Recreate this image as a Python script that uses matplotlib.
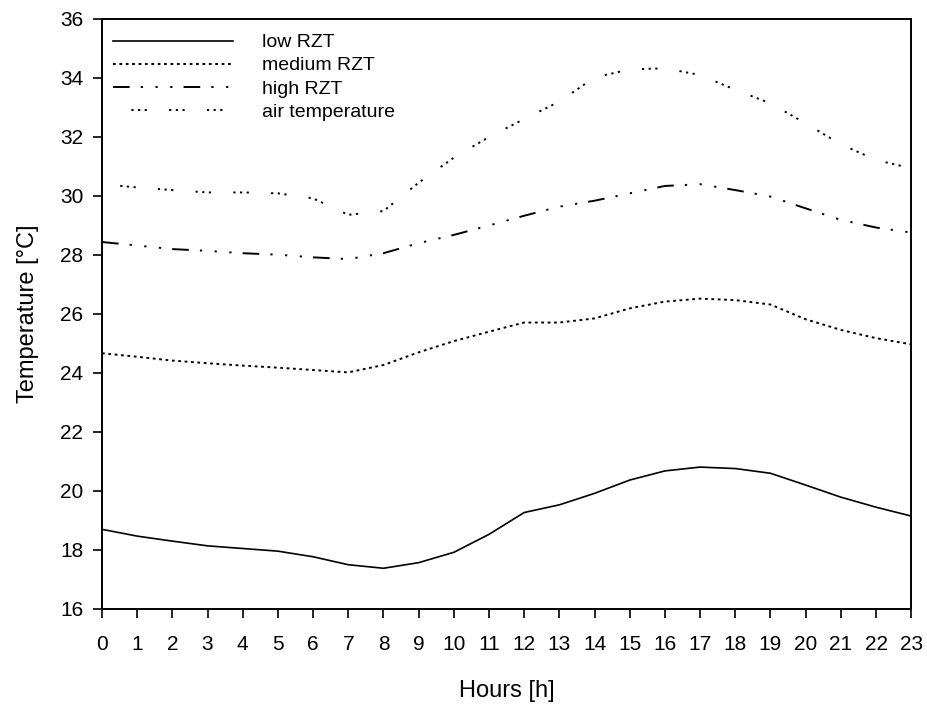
import matplotlib
matplotlib.use('Agg')
import matplotlib.pyplot as plt
import numpy as np

plt.rcParams['font.family'] = ['Liberation Sans', 'DejaVu Sans']
plt.rcParams['lines.scale_dashes'] = False

# Stunden
hours = np.arange(24)

# Temperaturen
low_rzt = [18.70, 18.47, 18.30, 18.14, 18.05, 17.96, 17.77, 17.50, 17.38, 17.57, 17.92, 18.53,
           19.27, 19.53, 19.92, 20.37, 20.68, 20.81, 20.76, 20.60, 20.20, 19.79, 19.45, 19.15]
medium_rzt = [24.67, 24.55, 24.42, 24.33, 24.25, 24.18, 24.10, 24.02, 24.27, 24.70, 25.08, 25.40,
              25.71, 25.71, 25.85, 26.19, 26.42, 26.52, 26.47, 26.32, 25.82, 25.46, 25.18, 24.97]
high_rzt = [28.44, 28.32, 28.20, 28.14, 28.06, 28.01, 27.92, 27.86, 28.06, 28.40, 28.68, 29.00,
            29.33, 29.64, 29.84, 30.09, 30.34, 30.40, 30.20, 29.98, 29.58, 29.19, 28.93, 28.76]
air_temp = [30.40, 30.29, 30.20, 30.12, 30.12, 30.09, 29.92, 29.36, 29.49, 30.45, 31.30, 32.00,
            32.61, 33.20, 34.02, 34.29, 34.33, 34.10, 33.60, 33.14, 32.46, 31.75, 31.22, 30.94]

series = [
    ('low RZT', low_rzt, '-', 1.2),
    ('medium RZT', medium_rzt, (0, (2.0, 2.6)), 1.4),
    ('high RZT', high_rzt, (0, (12, 8, 1.6, 9, 1.6, 9, 1.6, 8)), 1.4),
    ('air temperature', air_temp, (14, (1.6, 3.2, 1.6, 3.2, 1.6, 16)), 1.4),
]

fig = plt.figure(figsize=(9.27, 7.11), dpi=100)
ax = fig.add_axes([0.110, 0.1435, 0.873, 0.8298])

for name, vals, ls, lw in series:
    ax.plot(hours, vals, color='k', linestyle=ls, linewidth=lw,
            dash_capstyle='butt', label=name)

ax.set_xlim(0, 23)
ax.set_ylim(16, 36)
ax.set_xticks(hours)
ax.set_yticks(np.arange(16, 37, 2))
ax.tick_params(direction='out', length=6.5, width=1.2, labelsize=15, pad=7)
ax.tick_params(axis='x', pad=12)
for sp in ax.spines.values():
    sp.set_linewidth(1.4)

ax.set_xlabel('Hours [h]', fontsize=17, labelpad=19)
ax.set_ylabel('Temperature [°C]', fontsize=17, labelpad=15)

leg = ax.legend(loc='upper left', bbox_to_anchor=(0, 0.993), frameon=False, fontsize=14,
                handlelength=6.2, handletextpad=1.5, labelspacing=0.28,
                borderaxespad=0.2, borderpad=0.35)

fig.savefig('out.png', dpi=100)
